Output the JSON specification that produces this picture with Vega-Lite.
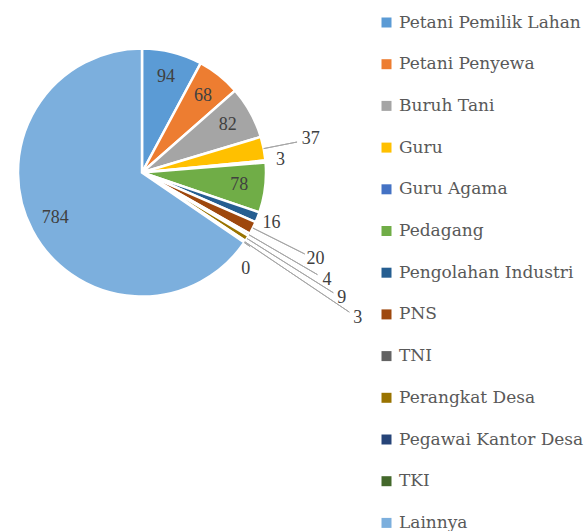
{
  "$schema": "https://vega.github.io/schema/vega-lite/v6.json",
  "width": 284,
  "height": 345,
  "autosize": {"type": "none"},
  "padding": {"left": 0, "top": 0, "right": 301, "bottom": 186},
  "background": "white",
  "config": {"view": {"stroke": null}},
  "data": {"values": [
    {"cat": "Petani Pemilik Lahan", "value": 94, "idx": 1},
    {"cat": "Petani Penyewa", "value": 68, "idx": 2},
    {"cat": "Buruh Tani", "value": 82, "idx": 3},
    {"cat": "Guru", "value": 37, "idx": 4},
    {"cat": "Guru Agama", "value": 3, "idx": 5},
    {"cat": "Pedagang", "value": 78, "idx": 6},
    {"cat": "Pengolahan Industri", "value": 16, "idx": 7},
    {"cat": "PNS", "value": 20, "idx": 8},
    {"cat": "TNI", "value": 4, "idx": 9},
    {"cat": "Perangkat Desa", "value": 9, "idx": 10},
    {"cat": "Pegawai Kantor Desa", "value": 3, "idx": 11},
    {"cat": "TKI", "value": 0, "idx": 12},
    {"cat": "Lainnya", "value": 784, "idx": 13}
  ]},
  "layer": [
    {
      "mark": {"type": "arc", "radius": 124, "stroke": "white", "strokeWidth": 2.5},
      "encoding": {
        "theta": {"field": "value", "type": "quantitative", "stack": true},
        "order": {"field": "idx", "type": "quantitative"},
        "color": {
          "field": "cat", "type": "nominal",
          "scale": {
            "domain": ["Petani Pemilik Lahan", "Petani Penyewa", "Buruh Tani", "Guru", "Guru Agama", "Pedagang", "Pengolahan Industri", "PNS", "TNI", "Perangkat Desa", "Pegawai Kantor Desa", "TKI", "Lainnya"],
            "range": ["#5B9BD5", "#ED7D31", "#A5A5A5", "#FFC000", "#4472C4", "#70AD47", "#255E91", "#9E480E", "#636363", "#997300", "#264478", "#43682B", "#7CAFDD"]
          },
          "legend": {
            "title": null,
            "orient": "none",
            "direction": "vertical",
            "legendX": 378,
            "legendY": 14,
            "padding": 0,
            "symbolType": "square",
            "symbolSize": 100,
            "symbolStrokeWidth": 0,
            "labelFont": "DejaVu Serif",
            "labelFontSize": 17,
            "labelColor": "#595959",
            "labelOffset": 4,
            "rowPadding": 23.7,
            "labelLimit": 300
          }
        }
      }
    },
    {
      "mark": {"type": "text", "radius": 98, "font": "Liberation Serif", "fontSize": 18, "fill": "#404040"},
      "encoding": {
        "theta": {"field": "value", "type": "quantitative", "stack": true},
        "order": {"field": "idx", "type": "quantitative"},
        "detail": {"field": "cat", "type": "nominal"},
        "text": {"condition": {"test": "indexof(['Petani Pemilik Lahan','Petani Penyewa','Buruh Tani','Pedagang','Lainnya'], datum.cat) >= 0", "field": "value", "type": "quantitative"}, "value": ""}
      }
    },
    {
      "mark": {"type": "text", "radius": 172, "font": "Liberation Serif", "fontSize": 18, "fill": "#404040"},
      "encoding": {
        "theta": {"field": "value", "type": "quantitative", "stack": true},
        "order": {"field": "idx", "type": "quantitative"},
        "detail": {"field": "cat", "type": "nominal"},
        "text": {"condition": {"test": "datum.cat === 'Guru'", "field": "value", "type": "quantitative"}, "value": ""}
      }
    },
    {
      "mark": {"type": "text", "radius": 139, "font": "Liberation Serif", "fontSize": 18, "fill": "#404040"},
      "encoding": {
        "theta": {"field": "value", "type": "quantitative", "stack": true},
        "order": {"field": "idx", "type": "quantitative"},
        "detail": {"field": "cat", "type": "nominal"},
        "text": {"condition": {"test": "datum.cat === 'Guru Agama' || datum.cat === 'Pengolahan Industri'", "field": "value", "type": "quantitative"}, "value": ""}
      }
    },
    {
      "mark": {"type": "text", "radius": 194, "font": "Liberation Serif", "fontSize": 18, "fill": "#404040"},
      "encoding": {
        "theta": {"field": "value", "type": "quantitative", "stack": true},
        "order": {"field": "idx", "type": "quantitative"},
        "detail": {"field": "cat", "type": "nominal"},
        "text": {"condition": {"test": "datum.cat === 'PNS'", "field": "value", "type": "quantitative"}, "value": ""}
      }
    },
    {
      "mark": {"type": "text", "radius": 214, "font": "Liberation Serif", "fontSize": 18, "fill": "#404040"},
      "encoding": {
        "theta": {"field": "value", "type": "quantitative", "stack": true},
        "order": {"field": "idx", "type": "quantitative"},
        "detail": {"field": "cat", "type": "nominal"},
        "text": {"condition": {"test": "datum.cat === 'TNI'", "field": "value", "type": "quantitative"}, "value": ""}
      }
    },
    {
      "mark": {"type": "text", "radius": 236, "font": "Liberation Serif", "fontSize": 18, "fill": "#404040"},
      "encoding": {
        "theta": {"field": "value", "type": "quantitative", "stack": true},
        "order": {"field": "idx", "type": "quantitative"},
        "detail": {"field": "cat", "type": "nominal"},
        "text": {"condition": {"test": "datum.cat === 'Perangkat Desa'", "field": "value", "type": "quantitative"}, "value": ""}
      }
    },
    {
      "mark": {"type": "text", "radius": 260, "font": "Liberation Serif", "fontSize": 18, "fill": "#404040"},
      "encoding": {
        "theta": {"field": "value", "type": "quantitative", "stack": true},
        "order": {"field": "idx", "type": "quantitative"},
        "detail": {"field": "cat", "type": "nominal"},
        "text": {"condition": {"test": "datum.cat === 'Pegawai Kantor Desa'", "field": "value", "type": "quantitative"}, "value": ""}
      }
    },
    {
      "mark": {"type": "text", "radius": 142, "thetaOffset": 0.15, "font": "Liberation Serif", "fontSize": 18, "fill": "#404040"},
      "encoding": {
        "theta": {"field": "value", "type": "quantitative", "stack": true},
        "order": {"field": "idx", "type": "quantitative"},
        "detail": {"field": "cat", "type": "nominal"},
        "text": {"condition": {"test": "datum.cat === 'TKI'", "field": "value", "type": "quantitative"}, "value": ""}
      }
    },
    {
      "mark": {"type": "arc", "radius": 158, "radius2": 124, "padAngle": 3, "fillOpacity": 0, "stroke": "#a6a6a6", "strokeWidth": 1},
      "encoding": {
        "theta": {"field": "value", "type": "quantitative", "stack": true},
        "order": {"field": "idx", "type": "quantitative"},
        "detail": {"field": "cat", "type": "nominal"},
        "strokeOpacity": {"condition": {"test": "datum.cat === 'Guru'", "value": 1}, "value": 0}
      }
    },
    {
      "mark": {"type": "arc", "radius": 182, "radius2": 124, "padAngle": 3, "fillOpacity": 0, "stroke": "#a6a6a6", "strokeWidth": 1},
      "encoding": {
        "theta": {"field": "value", "type": "quantitative", "stack": true},
        "order": {"field": "idx", "type": "quantitative"},
        "detail": {"field": "cat", "type": "nominal"},
        "strokeOpacity": {"condition": {"test": "datum.cat === 'PNS'", "value": 1}, "value": 0}
      }
    },
    {
      "mark": {"type": "arc", "radius": 203, "radius2": 124, "padAngle": 3, "fillOpacity": 0, "stroke": "#a6a6a6", "strokeWidth": 1},
      "encoding": {
        "theta": {"field": "value", "type": "quantitative", "stack": true},
        "order": {"field": "idx", "type": "quantitative"},
        "detail": {"field": "cat", "type": "nominal"},
        "strokeOpacity": {"condition": {"test": "datum.cat === 'TNI'", "value": 1}, "value": 0}
      }
    },
    {
      "mark": {"type": "arc", "radius": 226, "radius2": 124, "padAngle": 3, "fillOpacity": 0, "stroke": "#a6a6a6", "strokeWidth": 1},
      "encoding": {
        "theta": {"field": "value", "type": "quantitative", "stack": true},
        "order": {"field": "idx", "type": "quantitative"},
        "detail": {"field": "cat", "type": "nominal"},
        "strokeOpacity": {"condition": {"test": "datum.cat === 'Perangkat Desa'", "value": 1}, "value": 0}
      }
    },
    {
      "mark": {"type": "arc", "radius": 250, "radius2": 124, "padAngle": 3, "fillOpacity": 0, "stroke": "#a6a6a6", "strokeWidth": 1},
      "encoding": {
        "theta": {"field": "value", "type": "quantitative", "stack": true},
        "order": {"field": "idx", "type": "quantitative"},
        "detail": {"field": "cat", "type": "nominal"},
        "strokeOpacity": {"condition": {"test": "datum.cat === 'Pegawai Kantor Desa'", "value": 1}, "value": 0}
      }
    },
    {
      "mark": {"type": "arc", "radius": 131, "radius2": 124, "padAngle": 3, "fillOpacity": 0, "stroke": "#a6a6a6", "strokeWidth": 1},
      "encoding": {
        "theta": {"field": "value", "type": "quantitative", "stack": true},
        "order": {"field": "idx", "type": "quantitative"},
        "detail": {"field": "cat", "type": "nominal"},
        "strokeOpacity": {"condition": {"test": "datum.cat === 'TKI'", "value": 1}, "value": 0}
      }
    }
  ]
}
